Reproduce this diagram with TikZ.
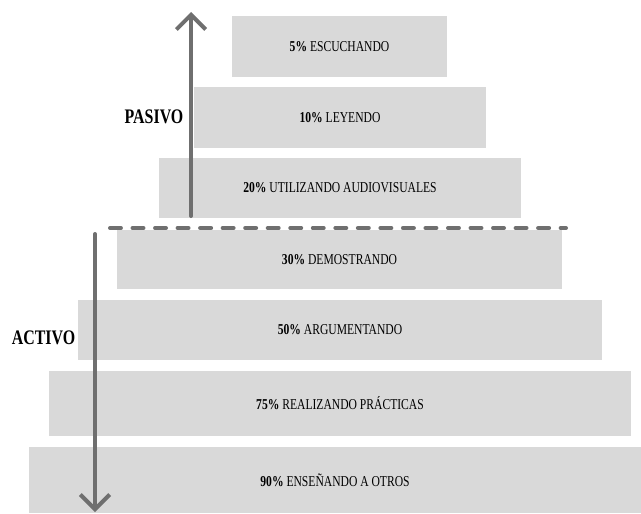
\documentclass[tikz,border=0pt]{standalone}
\usepackage{fontspec}
\setmainfont{Liberation Serif}[FakeStretch=0.77]
\usepackage{xcolor}
\usetikzlibrary{arrows.meta}

\definecolor{tiergray}{HTML}{D9D9D9}
\definecolor{arrowgray}{HTML}{6F6F6F}

\begin{document}
\begin{tikzpicture}[x=0.75pt, y=-0.75pt,
		tier/.style={fill=tiergray, draw=none, inner sep=0pt, font=\fontsize{11.3}{13}\selectfont},
		side/.style={font=\fontsize{15.5}{18}\selectfont\bfseries, inner sep=0pt},
		flow/.style={draw=arrowgray, line width=3pt, line cap=round, -{Straight Barb[length=11pt, width=22pt, line width=3pt]}}]
			\useasboundingbox (0,0) rectangle (641,513);
			
			\node[tier, minimum width=161.25pt, minimum height=45.75pt] (escuchando) at (339.5,46.5) {\textbf{5\%} ESCUCHANDO};
			\node[tier, minimum width=219pt, minimum height=45.75pt] (leyendo) at (340,117.5) {\textbf{10\%} LEYENDO};
			\node[tier, minimum width=271.5pt, minimum height=45pt] (audiovisuales) at (340,188) {\textbf{20\%} UTILIZANDO AUDIOVISUALES};
			\node[tier, minimum width=333.75pt, minimum height=44.25pt] (demostrando) at (339.5,259.5) {\textbf{30\%} DEMOSTRANDO};
			\node[tier, minimum width=393pt, minimum height=45pt] (argumentando) at (340,330) {\textbf{50\%} ARGUMENTANDO};
			\node[tier, minimum width=436.5pt, minimum height=48.75pt] (practicas) at (340,403.5) {\textbf{75\%} REALIZANDO PRÁCTICAS};
			\node[tier, minimum width=459pt, minimum height=49.5pt] (otros) at (335,480) {\textbf{90\%} ENSEÑANDO A OTROS};
			
			\node[side] (pasivo) at (154,117) {PASIVO};
			\node[side] (activo) at (43.5,338) {ACTIVO};
			
			\coordinate (upfrom) at (191,216);
			\coordinate (upto) at (191,12);
			\coordinate (downfrom) at (95,234);
			\coordinate (downto) at (95,512);
			\coordinate (cutleft) at (110,228);
			\coordinate (cutright) at (566,228);
			
			\draw[flow] (upfrom) -- (upto);
			\draw[flow] (downfrom) -- (downto);
			\draw[draw=arrowgray, line width=3pt, line cap=round, dash pattern=on 8.2pt off 8.7pt] (cutleft) -- (cutright);
		\end{tikzpicture}
\end{document}
